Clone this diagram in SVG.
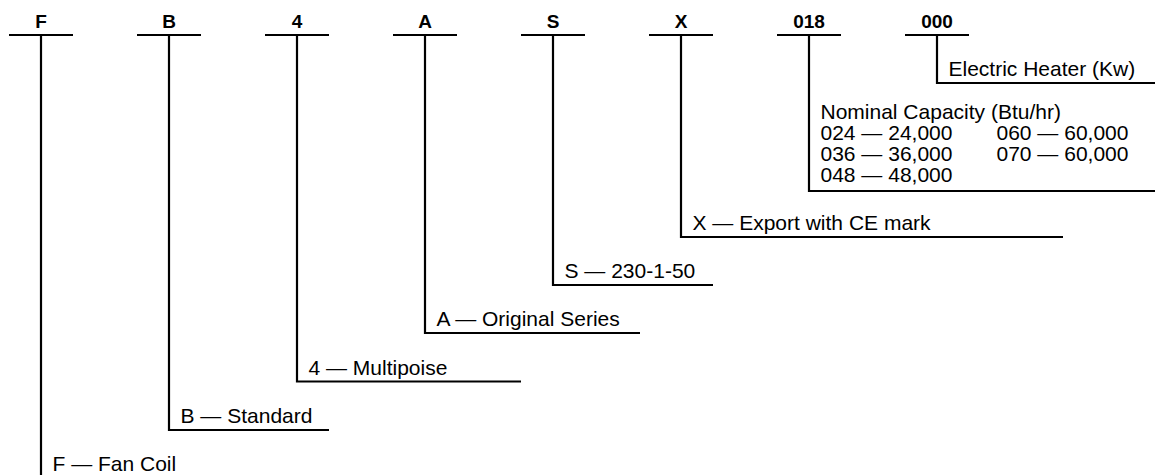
<svg xmlns="http://www.w3.org/2000/svg" width="1155" height="475" viewBox="0 0 1155 475">
<style>
.bg{fill:#fff}
.bar{stroke:#000;stroke-width:2.2;fill:none}
.lead{stroke:#000;stroke-width:2.2;fill:none}
.code{font-family:"Liberation Sans",Arial,sans-serif;font-weight:bold;font-size:19px;text-anchor:middle;fill:#000}
.desc{font-family:"Liberation Sans",Arial,sans-serif;font-size:21px;fill:#000}
</style>
<rect class="bg" x="0" y="0" width="1155" height="475"/>
<g id="connectors">
<path class="lead" d="M41,35 V475"/>
<path class="lead" d="M169,35 V430 H329"/>
<path class="lead" d="M297,35 V381.5 H521"/>
<path class="lead" d="M425,35 V333 H640"/>
<path class="lead" d="M553,35 V285 H713"/>
<path class="lead" d="M681,35 V237 H1063"/>
<path class="lead" d="M809,35 V191 H1155"/>
<path class="lead" d="M937,35 V83 H1155"/>
</g>
<g id="node-F"><path class="bar" d="M9,35 H73"/><text class="code" x="41" y="28">F</text><text class="desc" x="52.5" y="471">F — Fan Coil</text></g>
<g id="node-B"><path class="bar" d="M137,35 H201"/><text class="code" x="169" y="28">B</text><text class="desc" x="180.5" y="423">B — Standard</text></g>
<g id="node-4"><path class="bar" d="M265,35 H329"/><text class="code" x="297" y="28">4</text><text class="desc" x="308.5" y="374.5">4 — Multipoise</text></g>
<g id="node-A"><path class="bar" d="M393,35 H457"/><text class="code" x="425" y="28">A</text><text class="desc" x="436.5" y="326">A — Original Series</text></g>
<g id="node-S"><path class="bar" d="M521,35 H585"/><text class="code" x="553" y="28">S</text><text class="desc" x="564.5" y="278">S — 230-1-50</text></g>
<g id="node-X"><path class="bar" d="M649,35 H713"/><text class="code" x="681" y="28">X</text><text class="desc" x="692.5" y="230">X — Export with CE mark</text></g>
<g id="node-018"><path class="bar" d="M777,35 H841"/><text class="code" x="809" y="28">018</text>
<text class="desc" x="820.5" y="119">Nominal Capacity (Btu/hr)</text>
<text class="desc" x="820.5" y="140">024 — 24,000</text>
<text class="desc" x="820.5" y="161">036 — 36,000</text>
<text class="desc" x="820.5" y="182">048 — 48,000</text>
<text class="desc" x="996.5" y="140">060 — 60,000</text>
<text class="desc" x="996.5" y="161">070 — 60,000</text>
</g>
<g id="node-000"><path class="bar" d="M905,35 H969"/><text class="code" x="937" y="28">000</text><text class="desc" x="948.5" y="76">Electric Heater (Kw)</text></g>
</svg>
